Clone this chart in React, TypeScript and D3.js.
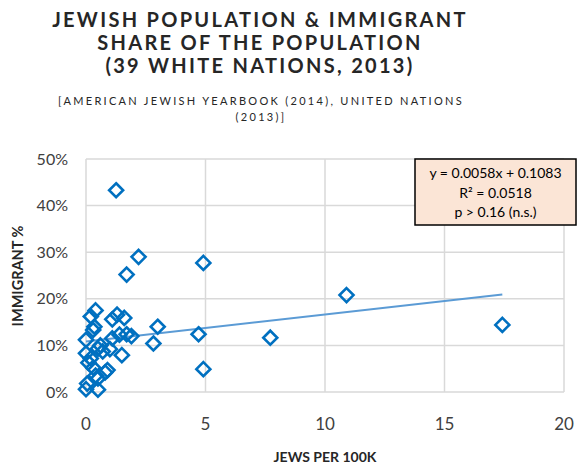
import React from "react";
import * as d3 from "d3";

const jewsPer100k = [
  1.26, 2.2, 1.7, 4.91, 4.91, 4.71, 3.0, 2.82, 7.71, 10.9, 17.42,
  0.4, 0.2, 0.35, 0.3, 0.0, 0.6, 0.5, 0.0, 0.2, 0.1, 0.3, 0.9, 0.8, 0.5, 0.4, 0.05, 0.0, 0.5,
  1.1, 1.3, 1.6, 1.1, 1.4, 1.7, 1.9, 1.5, 1.0, 0.7,
];
const immigrantPct = [
  43.3, 29.0, 25.2, 27.7, 4.9, 12.4, 14.0, 10.4, 11.65, 20.8, 14.4,
  17.5, 16.2, 14.0, 13.3, 11.2, 10.0, 9.3, 8.3, 7.2, 6.3, 5.2, 4.7, 4.2, 2.9, 3.5, 1.8, 0.6, 0.5,
  15.6, 16.6, 15.9, 11.5, 12.3, 12.4, 12.0, 7.9, 9.2, 8.7,
];
const xTicks = [0, 5, 10, 15, 20];
const yTicks = [0, 0.1, 0.2, 0.3, 0.4, 0.5];
const titleLines = ["JEWISH POPULATION & IMMIGRANT", "SHARE OF THE POPULATION", "(39 WHITE NATIONS, 2013)"];
const subtitleLines = ["[AMERICAN JEWISH YEARBOOK (2014), UNITED NATIONS", "(2013)]"];
const slope = 0.0058;
const intercept = 0.1083;
const statLines = ["y = 0.0058x + 0.1083", "R² = 0.0518", "p > 0.16 (n.s.)"];

export default function App() {
  const W = 579, H = 464;
  const x = d3.scaleLinear().domain([0, 20]).range([86, 564]);
  const y = d3.scaleLinear().domain([0, 0.5]).range([392, 159]);
  const font = "Lato, 'Open Sans', sans-serif";
  const pts = jewsPer100k.map((v, i) => [v, immigrantPct[i] / 100]);
  const xMax = d3.max(jewsPer100k) as number;
  const trend = d3.line<number>().x((d) => x(d)).y((d) => y(intercept + slope * d))([0, xMax]);
  const r = 7;
  const diamond = (cx: number, cy: number) =>
    `M${cx},${cy - r}L${cx + r},${cy}L${cx},${cy + r}L${cx - r},${cy}Z`;

  return (
    <svg width={W} height={H} style={{ position: "absolute", left: 0, top: 0, background: "#fff" }} fontFamily={font}>
      {titleLines.map((t, i) => (
        <text key={t} x={260} y={27 + i * 23} textAnchor="middle" fontSize={20} fontWeight={700} letterSpacing={2.3} fill="#262626">
          {t}
        </text>
      ))}
      {subtitleLines.map((t, i) => (
        <text key={t} x={261} y={105 + i * 16} textAnchor="middle" fontSize={11} letterSpacing={2.3} fill="#262626">
          {t}
        </text>
      ))}
      {yTicks.map((t) => (
        <line key={"gy" + t} x1={x(0)} x2={x(20)} y1={y(t)} y2={y(t)} stroke="#d9d9d9" strokeWidth={1.5} />
      ))}
      {xTicks.map((t) => (
        <line key={"gx" + t} x1={x(t)} x2={x(t)} y1={y(0)} y2={y(0.5)} stroke="#d9d9d9" strokeWidth={1.5} />
      ))}
      {yTicks.map((t) => (
        <text key={"ly" + t} x={68} y={y(t) + 5.5} textAnchor="end" fontSize={16} fill="#404040">
          {d3.format(".0%")(t)}
        </text>
      ))}
      {xTicks.map((t) => (
        <text key={"lx" + t} x={x(t)} y={430} textAnchor="middle" fontSize={17} fill="#404040">
          {t}
        </text>
      ))}
      <path d={trend || ""} stroke="#5b9bd5" strokeWidth={2} fill="none" />
      {pts.map(([a, b], i) => (
        <path key={i} d={diamond(x(a), y(b))} fill="none" stroke="#0070c0" strokeWidth={2.6} />
      ))}
      <text transform={`translate(23,276) rotate(-90)`} textAnchor="middle" fontSize={14.5} fontWeight={700} fill="#262626">
        IMMIGRANT %
      </text>
      <text x={325} y={462} textAnchor="middle" fontSize={14} fontWeight={700} fill="#262626">
        JEWS PER 100K
      </text>
      <rect x={415} y={159} width={161} height={66} fill="#fbe5d6" stroke="#000" strokeWidth={1.5} />
      {statLines.map((t, i) => (
        <text key={t} x={495.5} y={178 + i * 19.5} textAnchor="middle" fontSize={14} fill="#000">
          {t}
        </text>
      ))}
    </svg>
  );
}
